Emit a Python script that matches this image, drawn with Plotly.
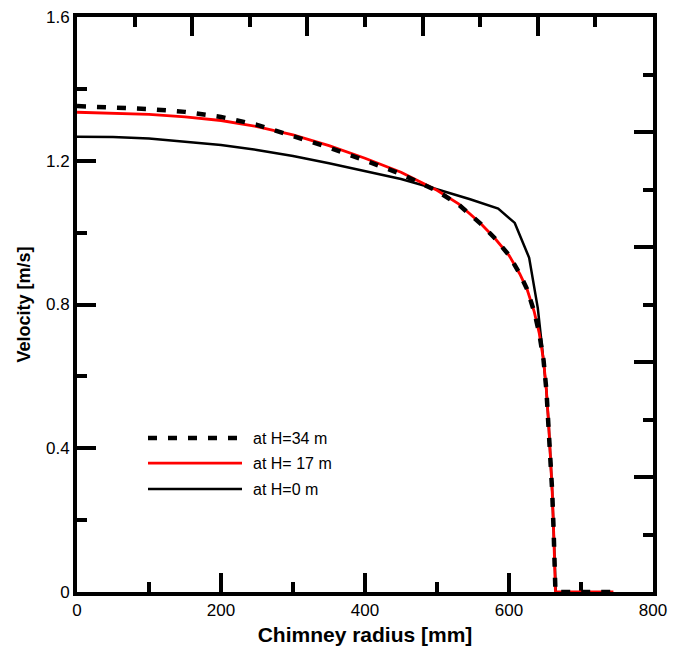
import plotly.graph_objects as go

# H = 34 m (dashed)
r34 = [0, 50, 100, 150, 200, 250, 300, 350, 400, 450, 500, 530, 560, 580, 600, 615, 625, 635, 642, 648, 652, 655, 658, 660, 662, 663.5, 664.5, 745]
v34 = [1.352, 1.349, 1.344, 1.336, 1.322, 1.300, 1.270, 1.237, 1.201, 1.163, 1.116, 1.078, 1.026, 0.985, 0.937, 0.885, 0.843, 0.78, 0.72, 0.645, 0.56, 0.47, 0.36, 0.28, 0.17, 0.08, 0.0, 0.0]

# H = 17 m (red)
r17 = [0, 50, 100, 150, 200, 250, 300, 350, 400, 450, 500, 530, 560, 580, 600, 615, 625, 635, 642, 648, 652, 655, 658, 660, 662, 663.5, 664.5, 745]
v17 = [1.335, 1.333, 1.329, 1.322, 1.312, 1.295, 1.272, 1.242, 1.207, 1.168, 1.118, 1.080, 1.027, 0.985, 0.937, 0.885, 0.843, 0.78, 0.72, 0.645, 0.56, 0.47, 0.36, 0.28, 0.17, 0.08, 0.0, 0.0]

# H = 0 m (black)
r0 = [0, 50, 100, 150, 200, 250, 300, 350, 400, 450, 494, 546, 585, 608, 628, 640, 646, 652, 655, 658, 660, 662, 663.5, 665]
v0 = [1.267, 1.266, 1.262, 1.254, 1.244, 1.230, 1.213, 1.193, 1.172, 1.149, 1.124, 1.093, 1.067, 1.027, 0.93, 0.79, 0.68, 0.56, 0.47, 0.36, 0.28, 0.17, 0.08, 0.0]

legend_labels = ["at H=34 m", "at H= 17 m", "at H=0 m"]

FONT = "Liberation Sans, Arial, sans-serif"

fig = go.Figure()
fig.add_trace(go.Scatter(x=r0, y=v0, mode="lines", line=dict(color="black", width=2.5),
                         name=legend_labels[2], showlegend=False, hoverinfo="skip"))
fig.add_trace(go.Scatter(x=r17, y=v17, mode="lines",
                         line=dict(color="#ff0000", width=2.8),
                         name=legend_labels[1], showlegend=False, hoverinfo="skip"))
fig.add_trace(go.Scatter(x=r34, y=v34, mode="lines", xaxis="x2", yaxis="y2",
                         line=dict(color="black", width=4.5, dash="9px,11px"),
                         name=legend_labels[0], showlegend=False, hoverinfo="skip"))

# Custom legend (paper coordinates)
leg_y = [0.2678, 0.2243, 0.1791]
leg_styles = [dict(color="black", width=4.5, dash="9px,11px"),
              dict(color="#ff0000", width=2.8),
              dict(color="black", width=2.5)]
x0p, x1p = (148 - 77) / 576, (242 - 77) / 576
for yy, st, lab in zip(leg_y, leg_styles, legend_labels):
    fig.add_shape(type="line", xref="paper", yref="paper", x0=x0p, x1=x1p, y0=yy, y1=yy, line=st)
    fig.add_annotation(xref="paper", yref="paper", x=(251 - 77) / 576, y=yy, text=lab,
                       showarrow=False, xanchor="left", yanchor="middle",
                       font=dict(family=FONT, size=16, color="black"))

axis_common = dict(showline=True, linecolor="black", linewidth=4, ticks="inside",
                   tickcolor="black", tickwidth=3.5, ticklen=19, showgrid=False,
                   zeroline=False, mirror=False, automargin=False)

fig.update_layout(
    width=686, height=650,
    margin=dict(l=77, r=33, t=17, b=58),
    paper_bgcolor="white", plot_bgcolor="white",
    font=dict(family=FONT, size=17, color="black"),
    xaxis=dict(range=[0, 800], dtick=200, tick0=0, layer="below traces",
               title=dict(text="<b>Chimney radius [mm]</b>", font=dict(size=21), standoff=9),
               minor=dict(dtick=100, ticklen=10, tickwidth=3.5, ticks="inside", tickcolor="black"),
               **axis_common),
    yaxis=dict(range=[0, 1.6], dtick=0.4, tick0=0,
               title=dict(text="<b>Velocity [m/s]</b>", font=dict(size=18), standoff=12),
               minor=dict(dtick=0.2, ticklen=10, tickwidth=3.5, ticks="inside", tickcolor="black"),
               **axis_common),
    xaxis2=dict(range=[0, 800], dtick=160, tick0=0, overlaying="x", side="top", anchor="y2",
                showticklabels=False,
                minor=dict(dtick=80, ticklen=10, tickwidth=3.5, ticks="inside", tickcolor="black"),
                **axis_common),
    yaxis2=dict(range=[0, 1.6], dtick=0.32, tick0=0, overlaying="y", side="right", anchor="x2",
                showticklabels=False,
                minor=dict(dtick=0.16, ticklen=10, tickwidth=3.5, ticks="inside", tickcolor="black"),
                **axis_common),
)

fig.write_html("out.html", config={"displayModeBar": False},
               post_script="document.body.style.margin='0';document.body.style.overflow='hidden';")
